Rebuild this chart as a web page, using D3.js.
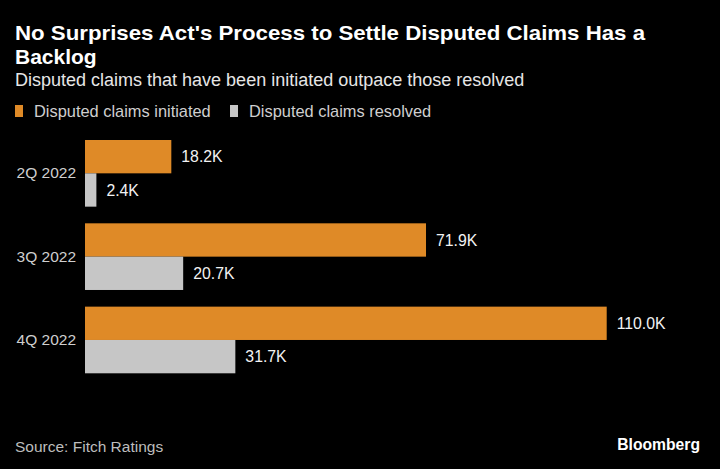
<!DOCTYPE html>
<html><head><meta charset="utf-8">
<script src="https://cdn.jsdelivr.net/npm/d3@7"></script>
<style>
html,body{margin:0;padding:0;background:#000;}
text{font-family:"Liberation Sans",Arial,sans-serif;}
</style></head>
<body>
<svg id="chart" width="720" height="469"></svg>
<script>
const categories = ["2Q 2022", "3Q 2022", "4Q 2022"];
const seriesNames = ["Disputed claims initiated", "Disputed claims resolved"];
const initiated = [18.2, 71.9, 110.0];
const resolved = [2.4, 20.7, 31.7];
const valueLabels = [["18.2K","2.4K"],["71.9K","20.7K"],["110.0K","31.7K"]];
const colors = ["#DF8A27", "#C6C6C6"];

const svg = d3.select("#chart");
svg.append("rect").attr("width",720).attr("height",469).attr("fill","#000");

// Title
const title = svg.append("text").attr("fill","#fff")
  .attr("font-size",21).attr("font-weight","bold");
title.append("tspan").attr("x",15).attr("y",40)
  .attr("textLength",630).attr("lengthAdjust","spacingAndGlyphs")
  .text("No Surprises Act's Process to Settle Disputed Claims Has a");
title.append("tspan").attr("x",15).attr("y",64).text("Backlog");

svg.append("text").attr("x",15).attr("y",86).attr("fill","#e6e6e6")
  .attr("font-size",18).text("Disputed claims that have been initiated outpace those resolved");

// Legend
const legendX = [15, 230];
seriesNames.forEach((n,i)=>{
  svg.append("rect").attr("x",legendX[i]).attr("y",105).attr("width",8).attr("height",12).attr("fill",colors[i]);
  svg.append("text").attr("x",legendX[i]+19).attr("y",117).attr("fill","#cfcfcf")
    .attr("font-size",16.4).text(n);
});

// Scales
const x = d3.scaleLinear().domain([0,110]).range([85,606.7]);
const y = d3.scaleBand().domain(categories).range([140,373.3]).paddingInner(0.2).paddingOuter(0);
const sub = d3.scaleBand().domain([0,1]).range([0,y.bandwidth()]);

const data = categories.map((c,i)=>({cat:c, vals:[initiated[i], resolved[i]], labels:valueLabels[i]}));

const g = svg.append("g");
data.forEach(d=>{
  d.vals.forEach((v,j)=>{
    g.append("rect").attr("x",x(0)).attr("y",y(d.cat)+sub(j))
      .attr("width",x(v)-x(0)).attr("height",sub.bandwidth()).attr("fill",colors[j]);
    g.append("text").attr("x",x(v)+10).attr("y",y(d.cat)+sub(j)+sub.bandwidth()/2)
      .attr("dy","0.35em").attr("fill","#f2f2f2").attr("font-size",15.8).text(d.labels[j]);
  });
});

// Category axis
const axis = d3.axisLeft(y).tickSize(0).tickPadding(9);
const ag = svg.append("g").attr("transform",`translate(${x(0)},0)`).call(axis);
ag.select(".domain").remove();
ag.selectAll("text").attr("fill","#cfcfcf").attr("font-size",15.5)
  .style("font-family","'Liberation Sans',Arial,sans-serif");

// Footer
svg.append("text").attr("x",15).attr("y",452).attr("fill","#bdbdbd").attr("font-size",15.5).text("Source: Fitch Ratings");
svg.append("text").attr("x",700).attr("y",450).attr("text-anchor","end").attr("fill","#fff")
  .attr("font-size",15.7).attr("font-weight","bold").text("Bloomberg");
</script>
</body></html>
